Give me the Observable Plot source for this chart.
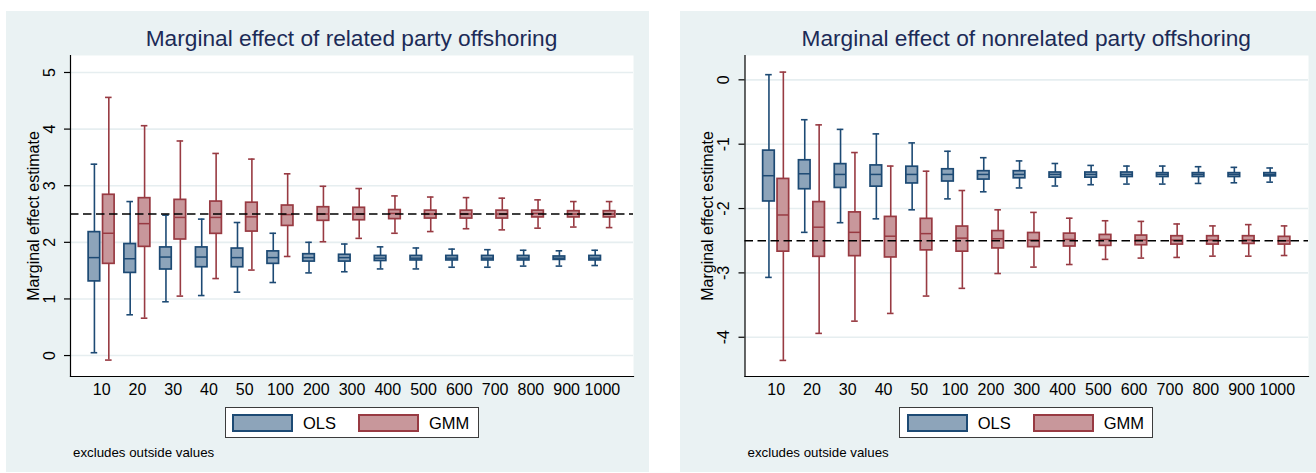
<!DOCTYPE html>
<html><head><meta charset="utf-8">
<script src="https://cdn.jsdelivr.net/npm/d3@7"></script>
<script src="https://cdn.jsdelivr.net/npm/@observablehq/plot@0.6"></script>
<style>
body{margin:0;background:#fff;font-family:"Liberation Sans",Arial,sans-serif;}
#root{position:relative;width:1316px;height:473px;overflow:hidden;background:#fff;}
.panel{position:absolute;top:11px;height:461px;background:#eaf2f3;}
.panel svg{position:absolute;left:0;top:0;overflow:visible;}
.title{position:absolute;top:16px;font-size:22.7px;line-height:1;color:#1c2b57;text-align:center;white-space:nowrap;}
.legend{position:absolute;top:396px;width:254px;height:31px;box-sizing:border-box;border:1.5px solid #3c3c3c;background:#fff;}
.sw{position:absolute;top:5.5px;width:61px;height:18px;box-sizing:border-box;border:2px solid;}
.lt{position:absolute;top:6.5px;font-size:16.5px;line-height:1;color:#000;white-space:nowrap;}
.note{position:absolute;top:435px;font-size:13.3px;line-height:1;color:#000;white-space:nowrap;}
</style>
</head><body><div id="root"></div>
<script>
const groups = ["10","20","30","40","50","100","200","300","400","500","600","700","800","900","1000"];
const series = ["OLS","GMM"];

// Left panel: related party offshoring
const relOLS_lo  = [0.05,0.72,0.95,1.06,1.12,1.29,1.46,1.48,1.53,1.53,1.56,1.56,1.58,1.58,1.59];
const relOLS_q1  = [1.31,1.46,1.52,1.56,1.56,1.62,1.66,1.66,1.67,1.68,1.68,1.68,1.68,1.69,1.68];
const relOLS_med = [1.73,1.71,1.74,1.74,1.73,1.73,1.73,1.73,1.72,1.72,1.72,1.72,1.72,1.72,1.72];
const relOLS_q3  = [2.18,1.97,1.91,1.91,1.89,1.84,1.79,1.78,1.76,1.76,1.76,1.76,1.76,1.75,1.76];
const relOLS_hi  = [3.38,2.72,2.48,2.41,2.35,2.16,2.00,1.97,1.92,1.90,1.88,1.87,1.86,1.85,1.86];
const relGMM_lo  = [-0.08,0.66,1.05,1.36,1.51,1.75,2.01,2.07,2.16,2.19,2.24,2.22,2.25,2.27,2.26];
const relGMM_q1  = [1.62,1.92,2.05,2.15,2.19,2.29,2.38,2.39,2.41,2.42,2.42,2.42,2.44,2.44,2.44];
const relGMM_med = [2.16,2.33,2.44,2.44,2.45,2.49,2.50,2.50,2.51,2.50,2.50,2.50,2.51,2.50,2.50];
const relGMM_q3  = [2.84,2.78,2.75,2.72,2.70,2.65,2.62,2.61,2.57,2.56,2.56,2.56,2.56,2.55,2.55];
const relGMM_hi  = [4.56,4.06,3.79,3.57,3.47,3.21,2.99,2.95,2.82,2.80,2.79,2.78,2.75,2.72,2.72];

// Right panel: nonrelated party offshoring
const nonOLS_lo  = [-3.07,-2.37,-2.22,-2.16,-2.02,-1.85,-1.74,-1.68,-1.65,-1.63,-1.62,-1.62,-1.61,-1.60,-1.59];
const nonOLS_q1  = [-1.89,-1.70,-1.68,-1.66,-1.61,-1.58,-1.55,-1.53,-1.52,-1.52,-1.51,-1.51,-1.51,-1.51,-1.50];
const nonOLS_med = [-1.49,-1.46,-1.47,-1.47,-1.47,-1.47,-1.47,-1.47,-1.47,-1.47,-1.47,-1.47,-1.47,-1.47,-1.47];
const nonOLS_q3  = [-1.10,-1.25,-1.31,-1.33,-1.35,-1.39,-1.42,-1.42,-1.44,-1.44,-1.44,-1.45,-1.45,-1.45,-1.45];
const nonOLS_hi  = [0.08,-0.62,-0.77,-0.84,-0.98,-1.11,-1.21,-1.26,-1.30,-1.33,-1.34,-1.34,-1.35,-1.36,-1.37];
const nonGMM_lo  = [-4.36,-3.94,-3.75,-3.63,-3.36,-3.24,-3.01,-2.91,-2.87,-2.79,-2.77,-2.76,-2.74,-2.74,-2.73];
const nonGMM_q1  = [-2.67,-2.75,-2.74,-2.76,-2.65,-2.67,-2.62,-2.60,-2.59,-2.58,-2.57,-2.56,-2.56,-2.55,-2.56];
const nonGMM_med = [-2.10,-2.29,-2.37,-2.43,-2.39,-2.46,-2.47,-2.49,-2.48,-2.48,-2.49,-2.49,-2.49,-2.49,-2.50];
const nonGMM_q3  = [-1.54,-1.90,-2.06,-2.13,-2.16,-2.28,-2.35,-2.38,-2.39,-2.41,-2.42,-2.43,-2.43,-2.43,-2.44];
const nonGMM_hi  = [0.12,-0.70,-1.13,-1.34,-1.42,-1.72,-2.02,-2.06,-2.15,-2.19,-2.20,-2.24,-2.27,-2.25,-2.27];

const relTicks = [0,1,2,3,4,5];
const nonTicks = [-4,-3,-2,-1,0];
const relTrue = 2.5, nonTrue = -2.5;
const yLabel = "Marginal effect estimate";
const note = "excludes outside values";

const colors = {
  OLS: {fill:"#8da4ba", stroke:"#1d4a74"},
  GMM: {fill:"#c8979b", stroke:"#983a42"}
};

function table(s) {
  return groups.map((n,i)=>({n, lo:s.lo[i], q1:s.q1[i], med:s.med[i], q3:s.q3[i], hi:s.hi[i]}));
}

function boxMarks(data, c, dx) {
  return [
    Plot.ruleX(data, {x:"n", y1:"q3", y2:"hi", dx, stroke:c.stroke, strokeWidth:1.6}),
    Plot.ruleX(data, {x:"n", y1:"lo", y2:"q1", dx, stroke:c.stroke, strokeWidth:1.6}),
    Plot.tickY(data, {x:"n", y:"hi", dx, insetLeft:14.6, insetRight:14.6, stroke:c.stroke, strokeWidth:1.6}),
    Plot.tickY(data, {x:"n", y:"lo", dx, insetLeft:14.6, insetRight:14.6, stroke:c.stroke, strokeWidth:1.6}),
    Plot.barY(data, {x:"n", y1:"q1", y2:"q3", dx, insetLeft:12.1, insetRight:12.1, fill:c.fill, stroke:c.stroke, strokeWidth:1.7}),
    Plot.tickY(data, {x:"n", y:"med", dx, insetLeft:12.1, insetRight:12.1, stroke:c.stroke, strokeWidth:1.5})
  ];
}

function makePanel(cfg) {
  const panel = document.createElement("div");
  panel.className = "panel";
  panel.style.left = cfg.left + "px";
  panel.style.width = cfg.width + "px";
  const ols = table(cfg.ols), gmm = table(cfg.gmm);
  const svg = Plot.plot({
    width: cfg.width, height: 461,
    marginLeft: cfg.ml, marginRight: cfg.mr, marginTop: 44, marginBottom: 96,
    style: {background:"transparent", fontFamily:'"Liberation Sans", Arial, sans-serif', color:"#000", overflow:"visible"},
    x: {type:"band", domain: groups, paddingInner: 0, paddingOuter: 0.37, round: false, axis: null},
    y: {domain: cfg.ydomain, axis: null},
    marks: [
      Plot.frame({fill:"#fff", stroke:null}),
      Plot.gridY(cfg.ticks, {stroke:"#e6eef0", strokeOpacity:1, strokeWidth:1.6}),
      ...boxMarks(ols, colors.OLS, -7.2),
      ...boxMarks(gmm, colors.GMM, 7.2),
      Plot.ruleY([cfg.ref], {stroke:"#000", strokeWidth:1.4, strokeDasharray:"8.5,4.5"}),
      Plot.frame({anchor:"left", stroke:"#000", strokeWidth:1.2}),
      Plot.frame({anchor:"bottom", stroke:"#000", strokeWidth:1.2}),
      Plot.axisY(cfg.ticks, {tickSize:6, tickFormat:()=>"", label:null, stroke:"#000", strokeWidth:1.2}),
      Plot.text(cfg.ticks, {y:d=>d, text:d=>String(d), frameAnchor:"left", dx:-21, rotate:-90, textAnchor:"middle", lineAnchor:"middle", fontSize:16, fill:"#000"}),
      Plot.text([yLabel], {frameAnchor:"left", dx:-37, rotate:-90, textAnchor:"middle", lineAnchor:"middle", fontSize:16, fill:"#000"}),
      Plot.axisX({tickSize:0, tickPadding:7.5, fontSize:16, label:null, fill:"#000"})
    ]
  });
  panel.appendChild(svg);

  const plotW = cfg.width - cfg.ml - cfg.mr;
  const t = document.createElement("div");
  t.className = "title";
  t.style.left = cfg.ml + "px";
  t.style.width = plotW + "px";
  t.textContent = cfg.title;
  panel.appendChild(t);

  const lg = document.createElement("div");
  lg.className = "legend";
  lg.style.left = (cfg.ml + plotW/2 - 127) + "px";
  const items = [[series[0], 6.5, 77.5], [series[1], 132.5, 203.5]];
  for (const [name, sx, tx] of items) {
    const sw = document.createElement("div");
    sw.className = "sw";
    sw.style.left = sx + "px";
    sw.style.background = colors[name].fill;
    sw.style.borderColor = colors[name].stroke;
    lg.appendChild(sw);
    const lt = document.createElement("div");
    lt.className = "lt";
    lt.style.left = tx + "px";
    lt.textContent = name;
    lg.appendChild(lt);
  }
  panel.appendChild(lg);

  const nt = document.createElement("div");
  nt.className = "note";
  nt.style.left = (cfg.ml + 3) + "px";
  nt.textContent = note;
  panel.appendChild(nt);

  document.getElementById("root").appendChild(panel);
}

makePanel({
  left: 6, width: 643, ml: 64, mr: 16,
  title: "Marginal effect of related party offshoring",
  ydomain: [-0.37, 5.3], ticks: relTicks, ref: relTrue,
  ols: {lo:relOLS_lo, q1:relOLS_q1, med:relOLS_med, q3:relOLS_q3, hi:relOLS_hi},
  gmm: {lo:relGMM_lo, q1:relGMM_q1, med:relGMM_med, q3:relGMM_q3, hi:relGMM_hi}
});
makePanel({
  left: 680, width: 636, ml: 64.5, mr: 8,
  title: "Marginal effect of nonrelated party offshoring",
  ydomain: [-4.61, 0.378], ticks: nonTicks, ref: nonTrue,
  ols: {lo:nonOLS_lo, q1:nonOLS_q1, med:nonOLS_med, q3:nonOLS_q3, hi:nonOLS_hi},
  gmm: {lo:nonGMM_lo, q1:nonGMM_q1, med:nonGMM_med, q3:nonGMM_q3, hi:nonGMM_hi}
});
</script>
</body></html>
